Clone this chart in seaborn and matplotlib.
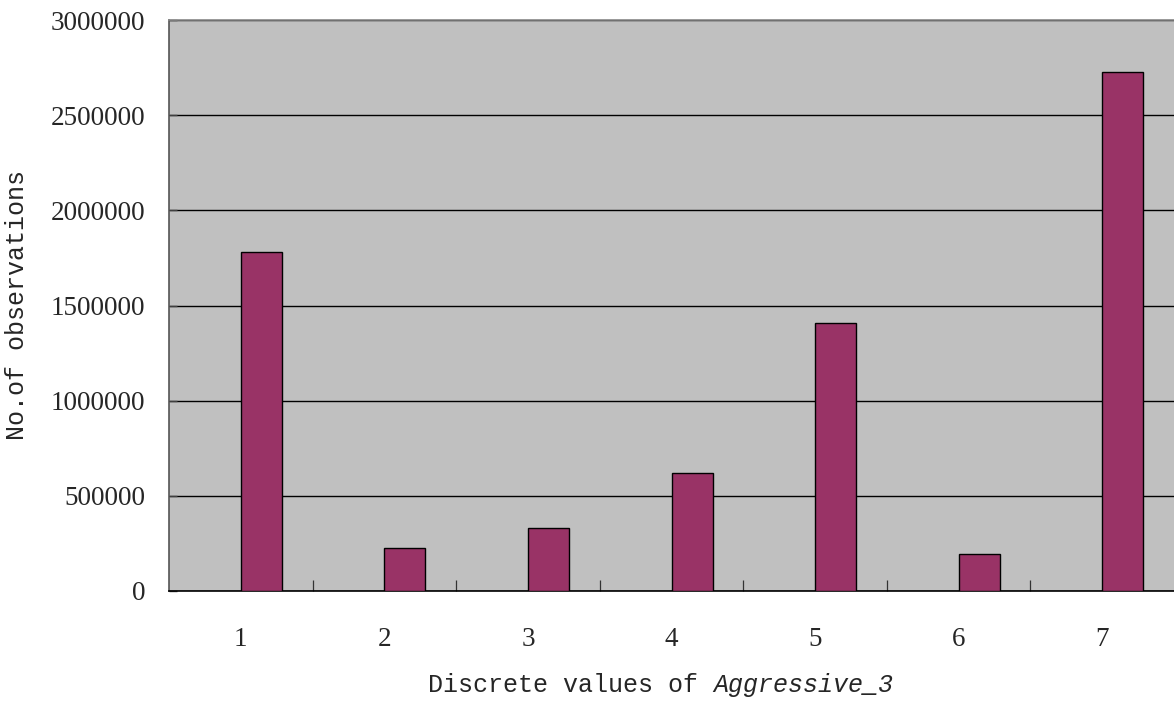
import matplotlib
matplotlib.use("Agg")
import matplotlib.pyplot as plt
import seaborn as sns
import pandas as pd
import numpy as np
from matplotlib.ticker import FixedLocator

# Frequency of each discrete value of Aggressive_3
categories = ["1", "2", "3", "4", "5", "6", "7"]
counts = [1781000, 226000, 331000, 620000, 1408000, 194000, 2727000]
# The chart has a second (empty) series slot to the left of each bar
empty_series = [np.nan] * len(categories)

yticks = [0, 500000, 1000000, 1500000, 2000000, 2500000, 3000000]

df = pd.DataFrame({
    "value": categories * 2,
    "series": ["blank"] * len(categories) + ["count"] * len(categories),
    "n": empty_series + counts,
})

sns.set_theme(style="white")
plt.rcParams["font.family"] = ["Liberation Mono", "DejaVu Sans"]

fig = plt.figure(figsize=(11.74, 7.02), dpi=100)
ax = fig.add_axes([169 / 1174, 111 / 702, 1 - 169 / 1174, 571 / 702])
ax.set_facecolor("#C0C0C0")

sns.barplot(
    data=df, x="value", y="n", hue="series", hue_order=["blank", "count"],
    order=categories, palette={"blank": "#993366", "count": "#993366"},
    width=0.572, edgecolor="black", linewidth=1.0, saturation=1,
    legend=False, ax=ax, zorder=3,
)

ax.set_ylim(0, 3000000)
ax.set_xlim(-0.5, len(categories) - 0.5)
ax.set_yticks(yticks)
ax.set_yticklabels([str(v) for v in yticks], fontfamily="Liberation Serif", fontsize=19.5)
ax.set_xticks(range(len(categories)))
ax.set_xticklabels(categories, fontfamily="Liberation Serif", fontsize=19.5)

ax.xaxis.set_minor_locator(FixedLocator(np.arange(0.5, len(categories) - 0.5, 1)))
ax.tick_params(axis="x", which="major", length=0, pad=26)
ax.tick_params(axis="x", which="minor", bottom=True, direction="in",
               length=8, width=0.9, color="#333333")
ax.tick_params(axis="y", which="major", direction="in", length=6, width=1,
               color="#404040", pad=17, left=True)

ax.set_axisbelow(True)
ax.yaxis.grid(True, color="black", linewidth=1)
ax.xaxis.grid(False)

for side, col in [("top", "#888888"), ("left", "#555555"), ("bottom", "black")]:
    ax.spines[side].set_visible(True)
    ax.spines[side].set_color(col)
    ax.spines[side].set_linewidth(1.2)
ax.spines["right"].set_visible(False)

ax.set_ylabel("No.of observations", fontsize=18, labelpad=16)
ax.set_xlabel("")
# x-axis title: plain prefix followed by the italic variable name
fig.text(
    713 / 1174, 17 / 702, "Discrete values of ", fontsize=18,
    ha="right", va="center", family=["Liberation Mono"],
)
fig.text(
    713 / 1174, 17 / 702, "Aggressive_3", fontsize=18, style="italic",
    ha="left", va="center", family=["Liberation Mono"],
)

fig.savefig("out.png", dpi=100)
